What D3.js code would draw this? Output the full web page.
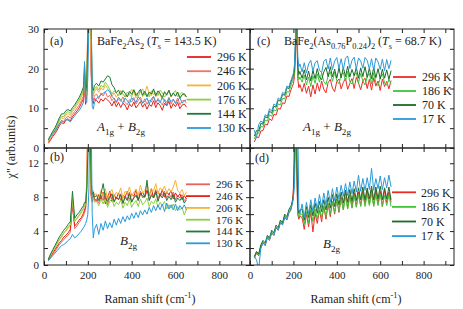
<!DOCTYPE html>
<html>
<head>
<meta charset="utf-8">
<script src="https://cdn.jsdelivr.net/npm/d3@7"></script>
<style>
body { margin: 0; background: #fff; }
svg text { font-family: "Liberation Serif", "Times New Roman", serif; fill: #222; }
</style>
</head>
<body>
<div id="chart"></div>
<script>
// Raman shift sampling (cm-1), shared by every spectrum
const shift = [20, 30, 40, 50, 60, 70, 80, 90, 100, 110, 120, 130, 140, 150, 160, 170, 180,
  185, 190, 195, 200, 205, 210, 215, 220, 225, 230,
  240, 250, 260, 270, 280, 290, 300, 310, 320, 330, 340, 350, 360, 370,
  380, 390, 400, 410, 420, 430, 440, 450, 460, 470, 480, 490, 500, 510,
  520, 530, 540, 550, 560, 570, 580, 590, 600, 610, 620, 630, 640, 650];

const tempsParent = ["296 K", "246 K", "206 K", "176 K", "144 K", "130 K"];
const tempsDoped = ["296 K", "186 K", "70 K", "17 K"];

// (a) BaFe2As2, A1g + B2g
const a296 = [1.2, 2.0, 2.9, 3.6, 4.5, 5.6, 6.4, 6.1, 7.0, 7.4, 6.8, 7.9, 8.6, 9.3, 10.1, 11.2, 12.4,
  14.8, 11.0, 13.5, 30.5, 42, 36, 19, 12.0, 11.2, 12.5,
  12.0, 11.3, 12.4, 11.8, 12.6, 12.1, 11.6, 10.6, 11.8, 10.4, 11.5, 10.2, 11.3, 10.8,
  9.6, 11.1, 10.4, 11.6, 10.1, 10.9, 11.7, 10.3, 11.2, 9.8, 11.0, 10.5, 11.9, 10.2,
  11.4, 10.7, 9.5, 11.3, 10.6, 11.8, 10.0, 11.2, 10.4, 11.5, 9.9, 10.8, 11.1, 10.3];
const a246 = [1.5, 2.3, 3.3, 4.0, 5.0, 6.1, 6.9, 6.7, 7.6, 8.0, 7.5, 8.5, 9.2, 10.0, 10.8, 11.9, 13.1,
  15.6, 11.8, 14.2, 32, 44, 37, 20, 12.8, 12.0, 13.2,
  13.6, 12.4, 13.9, 13.1, 14.2, 12.8, 13.3, 11.9, 12.6, 11.4, 12.3, 11.8, 12.9, 11.5,
  10.9, 12.2, 11.6, 12.7, 11.1, 12.0, 12.8, 11.3, 12.4, 11.0, 12.1, 11.6, 12.9, 11.2,
  12.5, 11.7, 10.8, 12.3, 11.5, 12.8, 11.1, 12.2, 11.4, 12.6, 10.9, 11.8, 12.1, 11.3];
const a206 = [1.8, 2.7, 3.7, 4.5, 5.6, 6.8, 7.6, 7.4, 8.3, 8.7, 8.2, 9.2, 9.9, 10.8, 11.6, 12.7, 14.0,
  17.0, 12.6, 15.0, 33, 45, 38, 22, 14.0, 13.1, 14.2,
  15.0, 14.0, 15.2, 14.6, 15.8, 15.0, 14.1, 13.0, 13.9, 12.8, 13.6, 14.5, 13.7, 13.1,
  12.9, 13.6, 14.8, 14.1, 12.6, 13.5, 14.4, 12.9, 13.9, 15.6, 13.7, 13.2, 14.6, 12.9,
  14.0, 13.4, 12.3, 14.0, 13.2, 14.5, 12.8, 13.8, 13.0, 14.1, 12.5, 13.4, 13.7, 12.8];
const a176 = [1.9, 2.9, 3.9, 4.7, 5.9, 7.1, 8.0, 7.9, 8.8, 9.2, 8.7, 9.7, 10.4, 11.3, 12.1, 13.2, 14.6,
  19.0, 13.2, 15.4, 28, 40, 43, 30, 14.6, 13.6, 14.8,
  15.5, 14.6, 15.8, 15.3, 16.6, 15.8, 14.8, 13.6, 14.4, 13.9, 13.1, 14.3, 13.6, 12.8,
  14.1, 13.4, 12.9, 14.5, 13.8, 13.0, 14.2, 14.9, 13.3, 13.7, 12.9, 14.4, 13.5, 14.0,
  13.2, 14.6, 13.9, 12.8, 13.6, 14.3, 13.1, 13.8, 14.5, 12.9, 13.5, 14.0, 13.2, 12.9];
const a144 = [2.0, 3.2, 4.2, 5.1, 6.3, 7.6, 8.6, 8.6, 9.4, 9.7, 9.3, 10.2, 10.9, 11.8, 12.7, 13.9, 15.4,
  21.0, 14.2, 15.9, 27, 38, 44, 33, 15.4, 14.5, 15.8,
  16.3, 15.6, 16.9, 16.6, 17.4, 18.2, 17.9, 16.0, 15.2, 13.9, 14.6, 13.4, 14.5, 13.8,
  12.9, 14.3, 13.5, 14.7, 13.2, 14.0, 14.8, 13.3, 14.3, 12.9, 14.1, 13.6, 14.9, 13.2,
  14.4, 13.7, 12.7, 14.2, 13.4, 14.6, 13.0, 13.9, 13.1, 14.1, 12.6, 13.4, 13.7, 12.9];
const a130 = [2.5, 3.0, 3.6, 4.3, 5.2, 6.1, 6.9, 6.5, 7.2, 7.0, 6.6, 7.4, 8.1, 8.8, 9.4, 10.3, 11.5,
  21.8, 12.0, 11.5, 18, 31, 45, 36, 10.5, 9.8, 11.4,
  12.5, 12.9, 13.4, 13.8, 14.2, 14.6, 14.3, 13.0, 12.4, 11.6, 12.8, 12.1, 11.4, 12.6,
  11.9, 11.2, 12.7, 12.0, 11.5, 12.9, 12.2, 11.3, 11.8, 12.6, 11.1, 12.4, 13.0, 11.6,
  12.1, 11.4, 12.8, 11.9, 10.9, 12.5, 11.7, 12.3, 11.2, 12.0, 12.7, 11.3, 11.8, 12.2];

// (b) BaFe2As2, B2g
const b296 = [0.5, 0.9, 1.3, 1.6, 2.0, 2.4, 2.7, 3.0, 3.3, 3.5, 3.9, 7.2, 4.3, 4.6, 5.0, 5.4, 5.8,
  6.2, 6.6, 9.0, 16, 20, 13, 8.0, 7.4, 8.1, 7.6,
  7.8, 7.3, 8.2, 7.6, 8.5, 7.1, 7.9, 8.3, 7.4, 8.0, 7.7, 8.4, 7.2, 8.1,
  7.8, 8.6, 7.5, 8.0, 8.3, 7.6, 8.7, 7.9, 8.2, 8.8, 7.7, 8.4, 8.1, 8.9,
  7.8, 8.5, 8.2, 8.7, 7.9, 8.4, 8.0, 8.6, 7.7, 8.2, 7.9, 8.3, 7.6, 7.9];
const b246 = [0.6, 1.0, 1.4, 1.8, 2.2, 2.6, 2.9, 3.3, 3.5, 3.8, 4.2, 7.4, 4.6, 4.9, 5.3, 5.6, 6.1,
  6.5, 6.9, 9.5, 17, 21, 14, 8.4, 7.7, 8.3, 7.8,
  7.5, 8.3, 7.7, 8.6, 7.2, 8.0, 8.7, 7.5, 8.3, 7.8, 8.5, 7.6, 8.2, 8.0,
  8.7, 7.6, 8.4, 8.1, 8.9, 7.7, 8.3, 8.6, 8.0, 8.8, 8.2, 9.0, 7.9, 8.5,
  8.7, 8.1, 8.9, 8.0, 8.6, 8.3, 8.8, 7.8, 8.5, 8.0, 8.4, 7.7, 8.2, 7.8];
const b206 = [0.7, 1.1, 1.6, 2.0, 2.5, 2.9, 3.3, 3.7, 4.0, 4.3, 4.7, 7.9, 5.1, 5.4, 5.8, 6.1, 6.6,
  7.0, 7.3, 9.8, 18, 22, 15, 8.9, 8.1, 8.8, 8.3,
  8.4, 7.9, 8.8, 8.1, 9.0, 7.7, 8.5, 8.9, 8.0, 8.6, 8.3, 9.1, 7.8, 8.7,
  8.4, 9.2, 8.1, 8.6, 8.9, 8.2, 9.4, 8.5, 8.8, 9.5, 8.3, 9.0, 8.7, 9.6,
  8.4, 9.1, 8.8, 9.3, 8.5, 9.0, 8.6, 9.2, 10.0, 8.8, 8.5, 8.9, 8.2, 8.6];
const b176 = [0.7, 1.2, 1.7, 2.1, 2.6, 3.0, 3.4, 3.8, 4.1, 4.5, 4.8, 7.6, 5.2, 5.5, 5.9, 6.3, 6.7,
  7.1, 7.0, 8.6, 14, 19, 16, 9.0, 7.6, 8.0, 7.4,
  7.5, 7.0, 7.8, 7.2, 7.9, 6.8, 7.5, 7.8, 6.9, 7.4, 7.1, 7.7, 6.7, 7.4,
  7.0, 7.8, 6.8, 7.3, 7.6, 6.9, 7.8, 7.1, 7.4, 7.9, 6.9, 7.5, 7.2, 7.8,
  6.8, 7.4, 7.0, 7.5, 6.6, 7.1, 6.7, 7.2, 6.4, 6.9, 6.5, 6.8, 5.9, 6.6];
const b144 = [0.7, 1.3, 1.8, 2.3, 2.8, 3.3, 3.7, 4.1, 4.4, 4.8, 5.1, 8.7, 5.5, 5.9, 6.2, 6.6, 7.0,
  7.4, 7.3, 8.8, 13, 18, 17, 10, 8.3, 8.6, 8.0,
  8.2, 7.6, 8.4, 9.6, 7.9, 7.5, 8.1, 8.4, 7.5, 8.0, 7.7, 8.3, 7.3, 8.0,
  7.6, 8.4, 7.4, 7.9, 8.2, 7.6, 8.5, 8.1, 8.0, 10.0, 7.6, 8.2, 7.9, 8.7,
  7.5, 8.3, 7.9, 8.5, 7.6, 8.1, 7.7, 8.3, 7.4, 7.9, 7.6, 8.0, 7.3, 7.7];
const b130 = [0.5, 0.8, 1.1, 1.4, 1.7, 2.0, 2.3, 2.4, 2.6, 2.9, 3.1, 3.6, 3.2, 3.4, 3.7, 4.0, 4.4,
  4.6, 4.9, 5.3, 6.0, 9.0, 22, 18, 6.0, 3.2, 4.2,
  4.8, 3.6, 4.9, 4.1, 5.2, 4.3, 5.0, 4.4, 5.4, 4.7, 5.5, 4.9, 5.7, 5.1,
  5.8, 5.3, 6.1, 5.5, 6.2, 5.6, 6.4, 5.9, 6.5, 6.0, 6.8, 6.2, 7.0, 6.4,
  7.1, 6.5, 7.2, 6.3, 7.3, 6.6, 7.1, 6.5, 7.2, 6.4, 7.0, 6.6, 7.1, 6.5];

// (c) BaFe2(As0.76P0.24)2, A1g + B2g
const c296 = [1.5, 2.8, 2.6, 4.3, 4.4, 6.0, 5.8, 7.4, 6.9, 8.5, 8.3, 10.0, 9.8, 11.4, 11.2, 13.1, 13.0,
  14.0, 14.8, 15.5, 16.2, 18, 24, 32, 17.5, 15.2, 16.0,
  14.2, 16.3, 13.8, 15.6, 12.9, 15.9, 13.6, 16.4, 14.3, 16.9, 14.8, 13.9, 16.5, 17.3,
  15.1, 14.2, 16.8, 17.4, 14.9, 16.5, 17.6, 14.8, 16.3, 17.5, 15.0, 17.8, 16.4, 14.7,
  16.9, 17.6, 15.0, 17.3, 14.6, 17.7, 15.6, 16.9, 14.5, 17.4, 15.5, 16.8, 14.9, 17.0];
const c186 = [2.3, 3.6, 3.7, 5.4, 5.3, 7.0, 6.8, 8.4, 8.0, 9.6, 9.4, 11.1, 10.9, 12.5, 12.4, 14.2, 14.1,
  15.1, 15.9, 16.7, 17.4, 19, 26, 36, 19.0, 17.2, 17.9,
  16.6, 18.4, 15.9, 17.9, 15.5, 18.2, 16.3, 18.7, 16.6, 18.9, 16.8, 16.0, 18.2, 19.2,
  16.8, 19.1, 17.0, 16.2, 18.4, 19.0, 16.9, 19.3, 16.7, 16.1, 18.3, 19.0, 16.4, 18.8,
  16.9, 15.9, 18.0, 18.8, 16.2, 19.0, 16.5, 15.7, 17.6, 18.7, 16.4, 15.8, 17.3, 16.1];
const c70 = [3.0, 4.4, 4.3, 6.2, 6.0, 7.9, 7.6, 9.3, 8.8, 10.5, 10.3, 12.1, 11.8, 13.5, 13.3, 15.2, 15.0,
  16.0, 16.8, 17.5, 18.3, 20, 27, 38, 21, 18.5, 19.3,
  17.6, 19.7, 17.2, 19.4, 16.9, 19.6, 17.5, 20.0, 17.8, 17.2, 19.2, 20.3, 18.0, 20.5,
  17.9, 19.9, 17.6, 20.2, 17.7, 20.3, 18.0, 20.6, 17.9, 19.8, 18.2, 20.3, 17.6, 20.2,
  18.0, 20.5, 17.8, 20.1, 17.5, 20.3, 17.7, 20.0, 17.4, 19.9, 17.6, 19.7, 17.3, 19.5];
const c17 = [4.5, 2.5, 5.9, 6.8, 6.4, 8.4, 8.0, 9.9, 9.3, 11.1, 10.7, 12.6, 12.2, 14.0, 13.7, 15.6, 15.4,
  16.5, 17.2, 18.0, 18.8, 21, 29, 40, 23, 20.5, 21.2,
  19.2, 21.5, 18.9, 21.2, 22.1, 19.4, 21.5, 22.0, 19.6, 19.0, 21.8, 22.4, 19.9, 22.7,
  19.8, 21.9, 22.8, 20.1, 22.5, 19.7, 22.6, 23.2, 20.0, 22.1, 22.9, 19.9, 22.7, 21.9,
  20.1, 22.8, 22.1, 19.9, 22.5, 19.6, 22.7, 21.7, 19.8, 22.4, 19.5, 22.3, 20.0, 22.1];

// (d) BaFe2(As0.76P0.24)2, B2g
const d296 = [0.8, 1.4, 1.1, 2.0, 2.6, 2.3, 3.2, 2.9, 3.8, 3.5, 4.4, 4.1, 5.0, 4.8, 5.7, 5.3, 6.2,
  6.3, 6.6, 7.5, 9.0, 16, 18, 11, 6.0, 5.4, 5.8,
  5.6, 4.2, 6.0, 4.5, 6.3, 3.9, 6.1, 4.9, 6.5, 5.1, 6.9, 5.4, 7.2, 5.7,
  7.5, 6.0, 7.8, 6.2, 8.0, 6.5, 8.8, 6.7, 8.3, 6.8, 8.5, 6.9, 8.6, 7.0,
  8.7, 7.1, 8.8, 7.2, 8.9, 7.0, 8.8, 7.2, 8.7, 6.9, 8.9, 7.3, 8.6, 7.4];
const d186 = [0.9, 1.5, 1.2, 2.2, 2.7, 2.5, 3.3, 3.0, 3.9, 3.6, 4.5, 4.2, 5.1, 4.9, 5.8, 5.5, 6.3,
  6.4, 6.7, 7.2, 8.0, 12, 19, 14, 6.2, 5.7, 6.0,
  6.0, 4.8, 6.3, 5.0, 6.5, 5.1, 6.6, 5.4, 6.8, 5.6, 7.0, 5.7, 7.3, 6.0,
  7.5, 6.2, 7.7, 6.4, 7.8, 6.5, 8.0, 6.6, 8.1, 6.7, 8.2, 6.8, 8.3, 6.9,
  8.4, 6.9, 8.3, 7.0, 8.4, 6.9, 8.3, 7.0, 8.4, 6.9, 8.2, 7.0, 8.3, 6.9];
const d70 = [1.0, 1.6, 1.3, 2.4, 2.9, 2.6, 3.5, 3.2, 4.1, 3.8, 4.7, 4.4, 5.3, 5.0, 6.0, 5.7, 6.6,
  6.8, 7.0, 7.5, 8.2, 12, 20, 15, 6.8, 6.1, 6.5,
  6.6, 5.3, 6.9, 5.6, 7.1, 5.8, 7.3, 6.1, 7.5, 6.3, 7.7, 6.5, 8.0, 6.7,
  8.3, 6.9, 8.4, 7.1, 8.6, 7.3, 8.8, 7.4, 8.9, 7.5, 9.0, 7.6, 9.1, 7.7,
  9.2, 7.7, 9.1, 7.8, 9.3, 7.7, 9.2, 7.8, 9.3, 7.7, 9.1, 7.8, 9.2, 7.7];
const d17 = [1.0, 0.6, -0.5, 2.0, 2.6, 2.3, 3.4, 3.1, 3.8, 3.5, 4.5, 4.1, 5.0, 4.7, 5.6, 5.4, 6.3,
  6.5, 6.9, 7.2, 7.9, 9.5, 15, 22, 17, 6.5, 6.0,
  7.2, 5.6, 7.4, 6.0, 7.7, 6.3, 7.9, 6.6, 8.3, 6.8, 8.5, 7.1, 8.8, 7.4,
  9.0, 7.6, 9.2, 7.8, 9.4, 8.1, 9.6, 8.2, 9.8, 8.4, 9.9, 8.6, 10.6, 8.7,
  10.2, 8.8, 10.3, 8.9, 11.4, 8.8, 10.2, 9.0, 10.5, 8.9, 10.3, 9.1, 10.6, 9.2];

// tick values
const xTicks = [0, 100, 200, 300, 400, 500, 600, 700, 800, 900];
const yTicksTop = [0, 5, 10, 15, 20, 25, 30];
const yTicksBottom = [0, 2, 4, 6, 8, 10, 12];

const colorsA = ["#e3211c", "#f4706b", "#f9b233", "#8ccf3f", "#1d7a3a", "#2a9ad8"];
const colorsB = ["#e8625c", "#e3211c", "#f9b233", "#8ccf3f", "#1d7a3a", "#2a9ad8"];
const colorsCD = ["#ee2b26", "#3fc43a", "#1b6b25", "#2a9ad8"];

const width = 463, height = 309;
const serif = '"Liberation Serif", "Times New Roman", serif';

const svg = d3.select("#chart").append("svg")
  .attr("width", width)
  .attr("height", height);

const xLeft = d3.scaleLinear().domain([0, 940]).range([44, 250]);
const xRight = d3.scaleLinear().domain([0, 940]).range([250, 454]);
const yTop = d3.scaleLinear().domain([0, 30]).range([148, 29]);
const yBottom = d3.scaleLinear().domain([0, 13.8]).range([265, 148]);

const panels = [
  { id: "a", x: xLeft, y: yTop, data: [a296, a246, a206, a176, a144, a130], names: tempsParent,
    colors: colorsA, yTicks: yTicksTop, yStep: 10, yLabels: true, xLabels: false,
    legend: { x1: 187, x2: 211, tx: 217, y0: 57, dy: 14.2, size: 12 } },
  { id: "b", x: xLeft, y: yBottom, data: [b296, b246, b206, b176, b144, b130], names: tempsParent,
    colors: colorsB, yTicks: yTicksBottom, yStep: 4, yLabels: true, xLabels: true,
    legend: { x1: 186, x2: 210, tx: 216, y0: 184.3, dy: 11.8, size: 11 } },
  { id: "c", x: xRight, y: yTop, data: [c296, c186, c70, c17], names: tempsDoped,
    colors: colorsCD, yTicks: yTicksTop, yStep: 10, yLabels: false, xLabels: false,
    legend: { x1: 393, x2: 416, tx: 422, y0: 77, dy: 14, size: 12 } },
  { id: "d", x: xRight, y: yBottom, data: [d296, d186, d70, d17], names: tempsDoped,
    colors: colorsCD, yTicks: yTicksBottom, yStep: 4, yLabels: false, xLabels: true,
    legend: { x1: 392, x2: 416, tx: 421, y0: 192.3, dy: 14.6, size: 12 } }
];

function styleAxis(g) {
  g.select(".domain").remove();
  g.attr("font-family", serif).attr("font-size", 11).attr("color", "#222");
}

panels.forEach(function (p) {
  const [x0, x1] = p.x.range();
  const [y1, y0] = p.y.range();

  svg.append("clipPath").attr("id", "clip-" + p.id)
    .append("rect")
    .attr("x", x0).attr("y", y0)
    .attr("width", x1 - x0).attr("height", y1 - y0);

  const line = d3.line()
    .x(function (d, i) { return p.x(shift[i]); })
    .y(function (d) { return p.y(d); });

  svg.append("g")
    .attr("clip-path", "url(#clip-" + p.id + ")")
    .selectAll("path")
    .data(p.data)
    .enter()
    .append("path")
    .attr("d", line)
    .attr("fill", "none")
    .attr("stroke", function (d, i) { return p.colors[i]; })
    .attr("stroke-width", 1)
    .attr("stroke-linejoin", "round");

  // ticks on all four sides, pointing inwards
  svg.append("g")
    .attr("transform", "translate(0," + y1 + ")")
    .call(d3.axisBottom(p.x).tickValues(xTicks).tickSize(-4).tickPadding(6)
      .tickFormat(function (d) { return p.xLabels && d % 200 === 0 ? d : ""; }))
    .call(styleAxis);
  svg.append("g")
    .attr("transform", "translate(0," + y0 + ")")
    .call(d3.axisTop(p.x).tickValues(xTicks).tickSize(-4).tickFormat(""))
    .call(styleAxis);
  svg.append("g")
    .attr("transform", "translate(" + x0 + ",0)")
    .call(d3.axisLeft(p.y).tickValues(p.yTicks).tickSize(-4).tickPadding(5)
      .tickFormat(function (d) { return p.yLabels && d % p.yStep === 0 ? d : ""; }))
    .call(styleAxis);
  svg.append("g")
    .attr("transform", "translate(" + x1 + ",0)")
    .call(d3.axisRight(p.y).tickValues(p.yTicks).tickSize(-4).tickFormat(""))
    .call(styleAxis);

  svg.append("rect")
    .attr("x", x0).attr("y", y0)
    .attr("width", x1 - x0).attr("height", y1 - y0)
    .attr("fill", "none")
    .attr("stroke", "#222")
    .attr("stroke-width", 1);

  // legend
  const lg = svg.append("g").attr("class", "legend");
  lg.selectAll("line")
    .data(p.names)
    .enter()
    .append("line")
    .attr("x1", p.legend.x1).attr("x2", p.legend.x2)
    .attr("y1", function (d, i) { return p.legend.y0 + i * p.legend.dy; })
    .attr("y2", function (d, i) { return p.legend.y0 + i * p.legend.dy; })
    .attr("stroke", function (d, i) { return p.colors[i]; })
    .attr("stroke-width", 1.8);
  lg.selectAll("text")
    .data(p.names)
    .enter()
    .append("text")
    .attr("x", p.legend.tx)
    .attr("y", function (d, i) { return p.legend.y0 + i * p.legend.dy; })
    .attr("dy", "0.35em")
    .attr("font-size", p.legend.size)
    .text(function (d) { return d; });
});

// text with italic / sub / sup pieces
function rich(x, y, parts, size) {
  const t = svg.append("text").attr("x", x).attr("y", y).attr("font-size", size);
  let cur = 0;
  parts.forEach(function (p) {
    const kind = p[1] || "";
    const sub = kind.includes("sub"), sup = kind.includes("sup");
    const target = sub ? size * 0.3 : sup ? -size * 0.42 : 0;
    const ts = t.append("tspan").attr("dy", target - cur).text(p[0]);
    cur = target;
    if (sub || sup) ts.attr("font-size", size * 0.7);
    if (kind.includes("it")) ts.attr("font-style", "italic");
  });
  return t;
}

rich(50, 45, [["(a)"]], 12);
rich(50, 161, [["(b)"]], 12);
rich(257, 45, [["(c)"]], 12);
rich(255, 162, [["(d)"]], 12);

rich(97, 45, [["BaFe"], ["2", "sub"], ["As"], ["2", "sub"], [" ("], ["T", "it"], ["s", "sub"],
  [" = 143.5 K)"]], 12);
rich(284, 45, [["BaFe"], ["2", "sub"], ["(As"], ["0.76", "sub"], ["P"], ["0.24", "sub"], [")"],
  ["2", "sub"], [" ("], ["T", "it"], ["s", "sub"], [" = 68.7 K)"]], 12);

rich(97, 131, [["A", "it"], ["1g", "sub"], [" + "], ["B", "it"], ["2g", "sub"]], 13);
rich(303, 131, [["A", "it"], ["1g", "sub"], [" + "], ["B", "it"], ["2g", "sub"]], 13);
rich(120, 245, [["B", "it"], ["2g", "sub"]], 13);
rich(323, 248, [["B", "it"], ["2g", "sub"]], 13);

rich(150, 303, [["Raman shift (cm"], ["-1", "sup"], [")"]], 12).attr("text-anchor", "middle");
rich(356, 303, [["Raman shift (cm"], ["-1", "sup"], [")"]], 12).attr("text-anchor", "middle");

svg.append("text")
  .attr("transform", "translate(15,147) rotate(-90)")
  .attr("text-anchor", "middle")
  .attr("font-size", 12)
  .text("\u03c7\" (arb.units)");
</script>
</body>
</html>
